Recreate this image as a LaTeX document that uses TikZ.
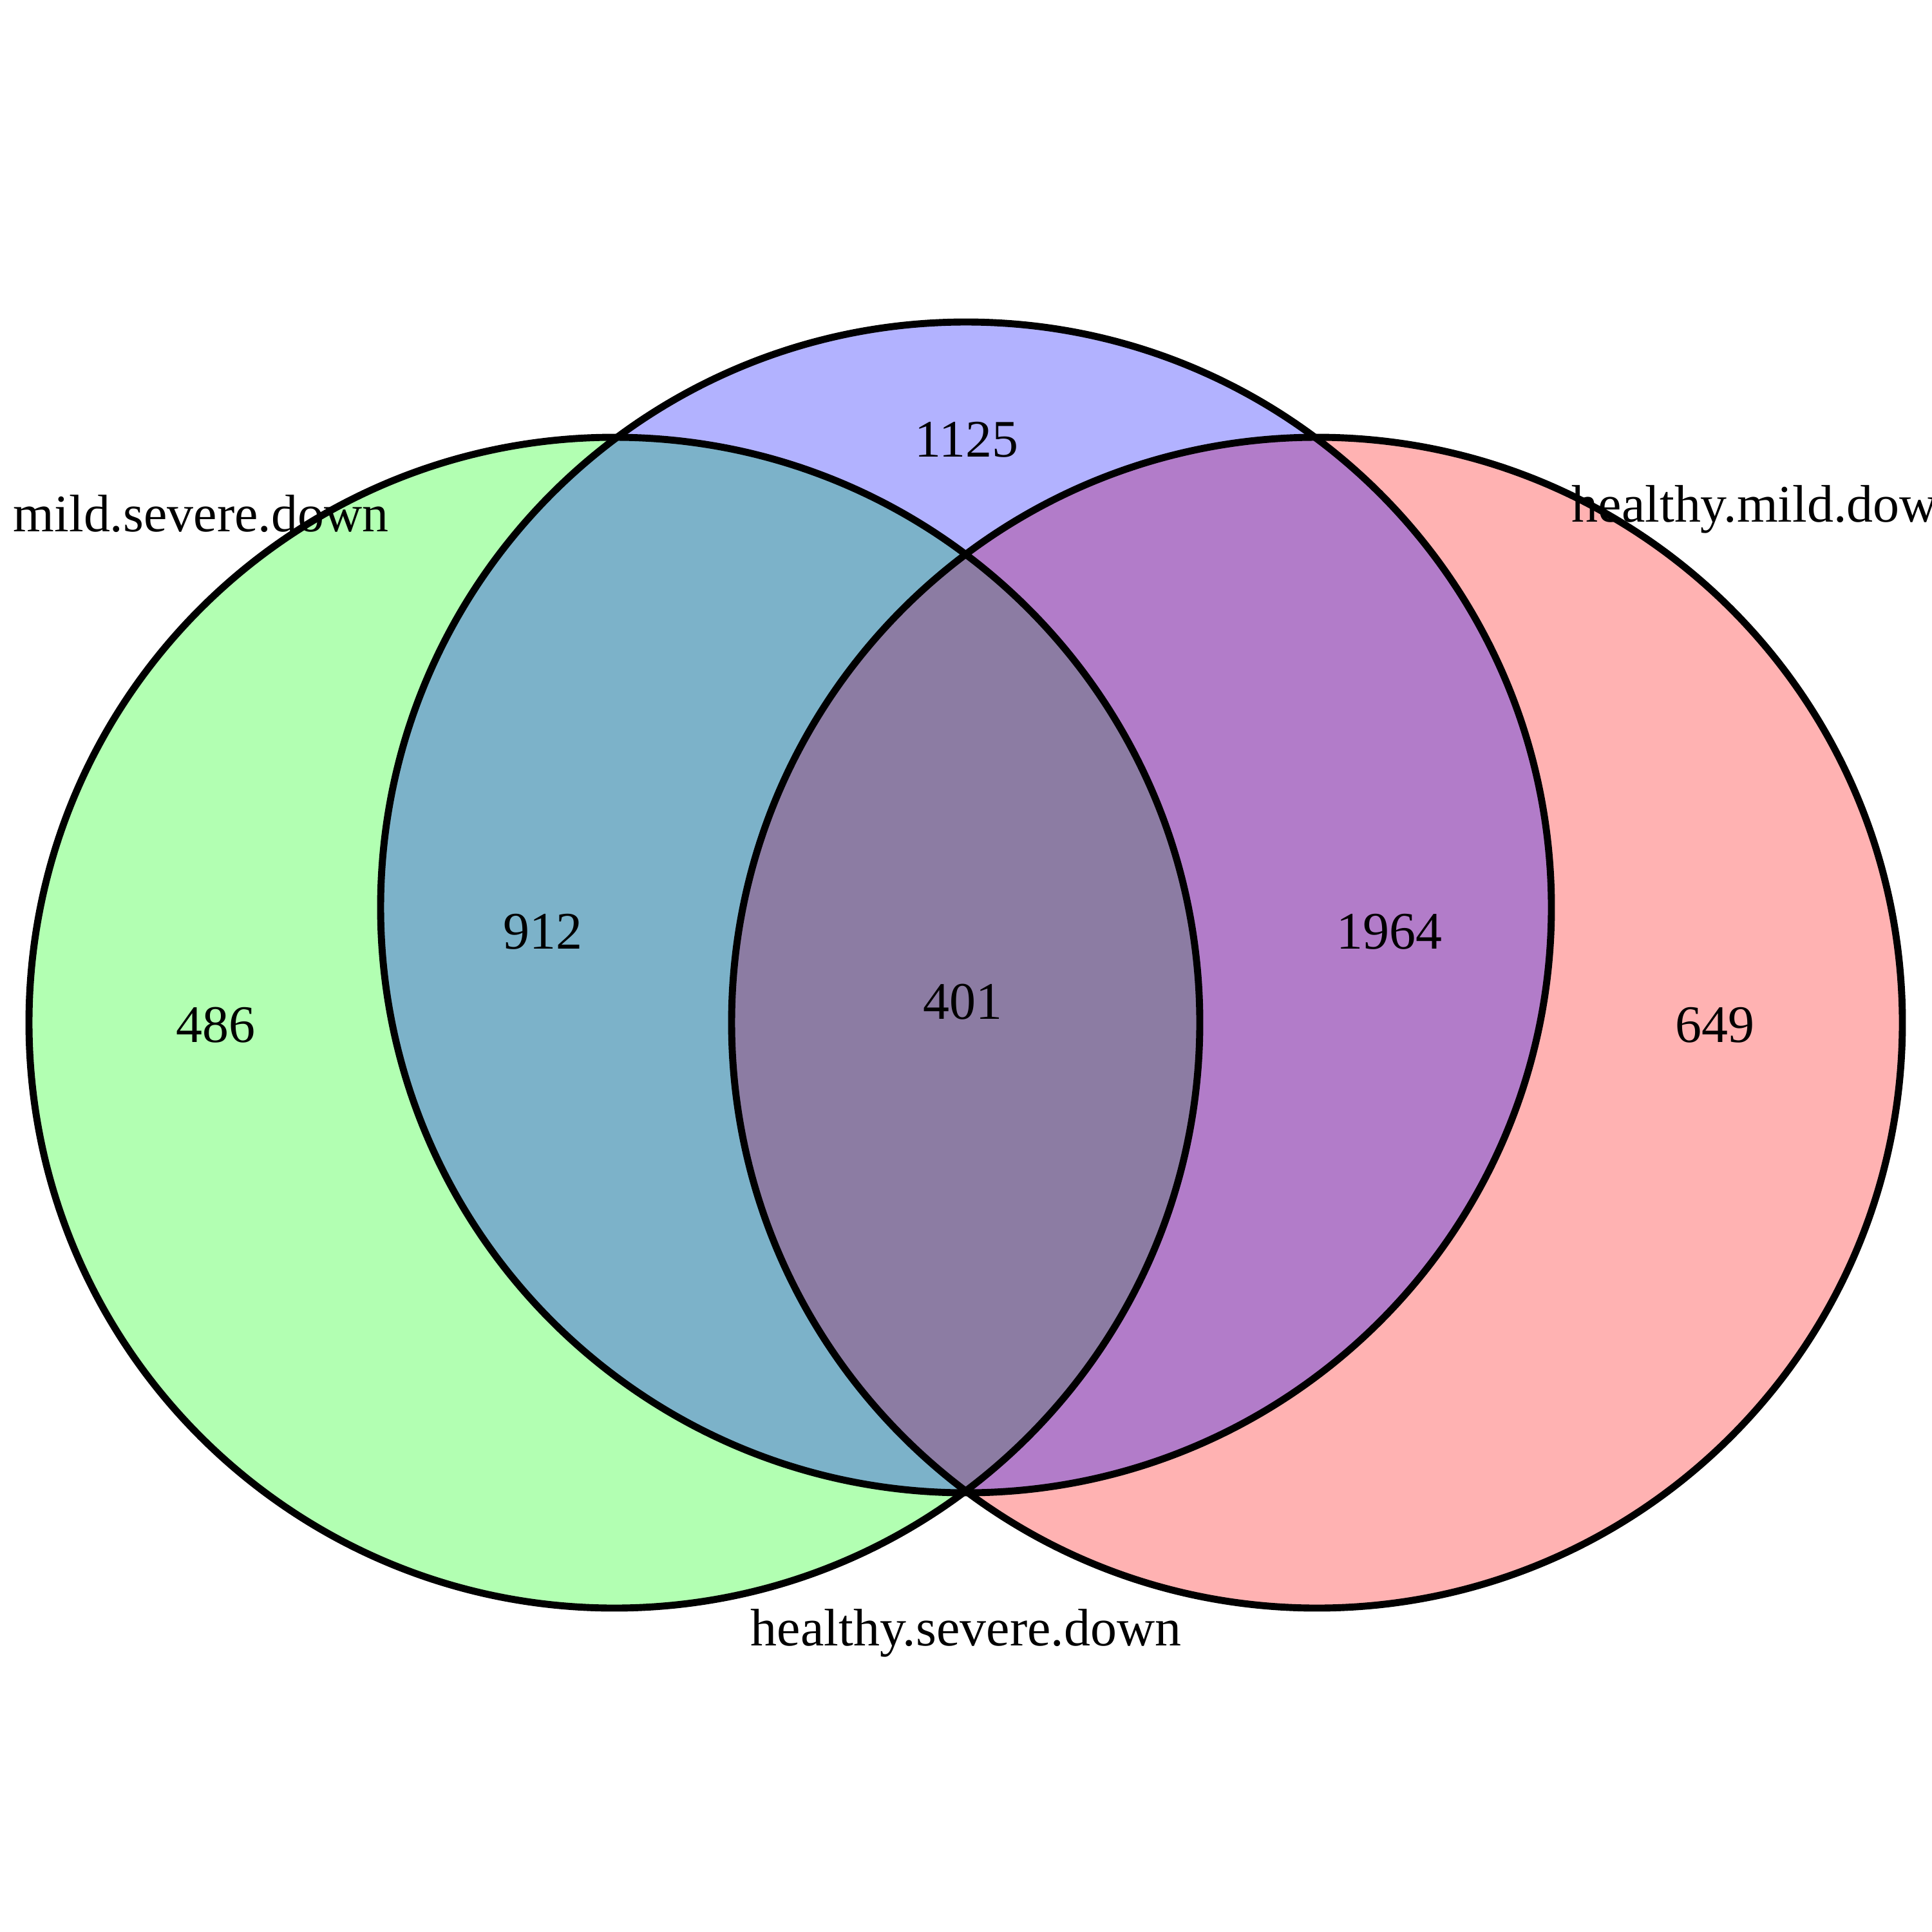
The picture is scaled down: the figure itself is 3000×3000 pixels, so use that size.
\documentclass[tikz,border=0pt]{standalone}
\usepackage{fontspec}
\setmainfont{Liberation Serif}
\begin{document}
\begin{tikzpicture}[x=0.01cm,y=-0.01cm,
  lbl/.style={inner sep=0pt,font=\fontsize{23.3}{28}\selectfont},
  ring/.style={draw=black,line width=3.1pt}]
\useasboundingbox (0,0) rectangle (3000,3000);
\clip (0,0) rectangle (3000,3000);
\fill[white] (0,0) rectangle (3000,3000);
% fills
\fill[green,opacity=0.3] (954,1588) circle[radius=909];
\fill[red,opacity=0.3] (2045,1588) circle[radius=909];
\fill[blue,opacity=0.3] (1500,1409) circle[radius=909];
% outlines
\draw[ring] (954,1588) circle[radius=909];
\draw[ring] (2045,1588) circle[radius=909];
\draw[ring] (1500,1409) circle[radius=909];
% labels
\node[lbl,anchor=base west] (lmsd) at (20,825) {mild.severe.down};
\node[lbl,anchor=base west] (lhmd) at (2440,810) {healthy.mild.down};
\node[lbl,anchor=base] (lhsd) at (1500,2555) {healthy.severe.down};
\node[lbl,anchor=base] (n1125) at (1501,709) {1125};
\node[lbl,anchor=base] (n486) at (335,1618) {486};
\node[lbl,anchor=base] (n649) at (2663,1618) {649};
\node[lbl,anchor=base] (n912) at (843,1473) {912};
\node[lbl,anchor=base] (n401) at (1495,1582) {401};
\node[lbl,anchor=base] (n1964) at (2157,1473) {1964};
\end{tikzpicture}
\end{document}
